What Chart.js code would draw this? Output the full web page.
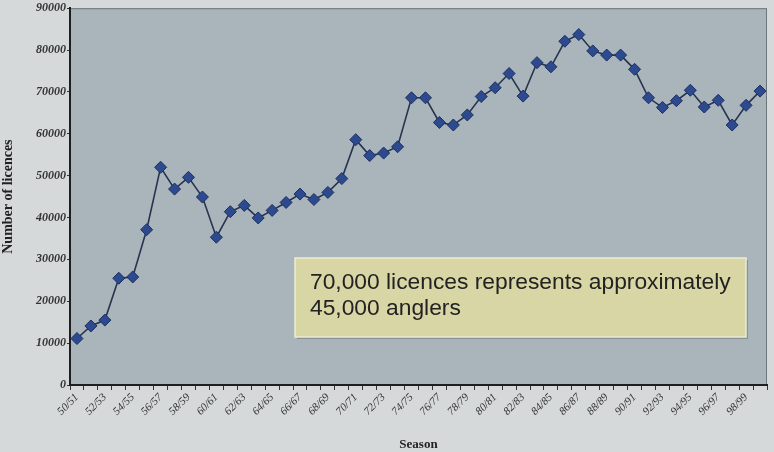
<!DOCTYPE html>
<html>
<head>
<meta charset="utf-8">
<script src="https://cdn.jsdelivr.net/npm/chart.js@4/dist/chart.umd.min.js"></script>
<style>
  html, body { margin: 0; padding: 0; background: #d6d9d9; }
  #wrap { width: 774px; height: 452px; }
</style>
</head>
<body>
<div id="wrap"><canvas id="c" width="774" height="452"></canvas></div>
<script>
// seasons 50/51 .. 99/00
const seasons = [];
for (let y = 50; y < 100; y++) {
  seasons.push(String(y).padStart(2, "0") + "/" + String((y + 1) % 100).padStart(2, "0"));
}

// licences sold per season
const licences = [
  11100, 14100, 15500, 25500, 25800, 37100, 52000, 46800, 49600, 44900,
  35300, 41400, 42900, 39900, 41700, 43600, 45600, 44300, 46000, 49300,
  58600, 54800, 55400, 56900, 68600, 68600, 62700, 62100, 64500, 68900,
  71000, 74400, 69000, 77000, 76000, 82100, 83700, 79800, 78800, 78800,
  75400, 68600, 66300, 67900, 70400, 66400, 68000, 62100, 66800, 70200
];

const yTicks = [0, 10000, 20000, 30000, 40000, 50000, 60000, 70000, 80000, 90000];
const noteLines = ["70,000 licences represents approximately", "45,000 anglers"];

// colours
const COL_BG    = "#d6d9d9";
const COL_PLOT  = "#a9b5ba";
const COL_LINE  = "#27334f";
const COL_POINT = "#2c4a8d";
const COL_NOTE  = "#d9d6a5";

// plot background + frame
const plotBg = {
  id: "plotBg",
  beforeDraw(chart) {
    const { ctx, chartArea: a } = chart;
    ctx.save();
    ctx.fillStyle = COL_BG;
    ctx.fillRect(0, 0, chart.width, chart.height);
    ctx.fillStyle = COL_PLOT;
    ctx.fillRect(a.left, a.top, a.right - a.left, a.bottom - a.top);
    ctx.strokeStyle = "#6d7578";
    ctx.lineWidth = 1;
    ctx.strokeRect(a.left + 0.5, a.top + 0.5, a.right - a.left - 1, a.bottom - a.top);
    ctx.restore();
  }
};

// yellow note box
const noteBox = {
  id: "noteBox",
  beforeDatasetsDraw(chart) {
    const ctx = chart.ctx;
    const x = 295, y = 258, w = 451, h = 79;
    ctx.save();
    ctx.fillStyle = "rgba(70,80,85,0.35)";
    ctx.fillRect(x + 2, y + 2, w, h);
    ctx.fillStyle = COL_NOTE;
    ctx.fillRect(x, y, w, h);
    ctx.strokeStyle = "#ecebd0";
    ctx.lineWidth = 1.5;
    ctx.strokeRect(x, y, w, h);
    ctx.fillStyle = "#222";
    ctx.font = "22.8px 'Liberation Sans', Arial, sans-serif";
    ctx.textBaseline = "alphabetic";
    ctx.fillText(noteLines[0], 310, 289);
    ctx.fillText(noteLines[1], 310, 315);
    ctx.restore();
  }
};

new Chart(document.getElementById("c").getContext("2d"), {
  type: "line",
  data: {
    labels: seasons,
    datasets: [{
      data: licences,
      borderColor: COL_LINE,
      borderWidth: 1.6,
      pointStyle: "rectRot",
      pointRadius: 6,
      pointBackgroundColor: COL_POINT,
      pointBorderColor: "#1d2f63",
      pointBorderWidth: 1,
      tension: 0,
      fill: false
    }]
  },
  options: {
    responsive: false,
    animation: false,
    layout: { padding: { top: 7, right: 5, left: 0, bottom: 0 } },
    plugins: { legend: { display: false }, tooltip: { enabled: false } },
    scales: {
      x: {
        offset: true,
        grid: { offset: true, drawOnChartArea: false, tickLength: 5, color: "#333", tickWidth: 1 },
        border: { color: "#1e1e1e", width: 2 },
        ticks: {
          autoSkip: false,
          maxRotation: 45, minRotation: 45,
          padding: 1,
          color: "#333",
          font: { family: "'Liberation Serif', serif", size: 11, style: "italic" },
          callback: (v, i) => (i % 2 === 0 ? seasons[i] : "")
        },
        title: {
          display: true, text: "Season", color: "#222",
          font: { family: "'Liberation Serif', serif", size: 13, weight: "bold" },
          padding: { top: 4, bottom: 0 }
        },
        afterFit(s) { s.height = 67; }
      },
      y: {
        min: 0, max: 90000,
        afterBuildTicks(s) { s.ticks = yTicks.map(v => ({ value: v })); },
        grid: { drawOnChartArea: false, tickLength: 3, color: "#333" },
        border: { color: "#1e1e1e", width: 2 },
        ticks: {
          padding: 1,
          color: "#333",
          font: { family: "'Liberation Serif', serif", size: 12, style: "italic", weight: "bold" },
          callback: v => String(v)
        },
        title: {
          display: true, text: "Number of licences", color: "#222",
          font: { family: "'Liberation Serif', serif", size: 14, weight: "bold" },
          padding: { top: 0, bottom: 4 }
        },
        afterFit(s) { s.width = 70; }
      }
    }
  },
  plugins: [plotBg, noteBox]
});
</script>
</body>
</html>
